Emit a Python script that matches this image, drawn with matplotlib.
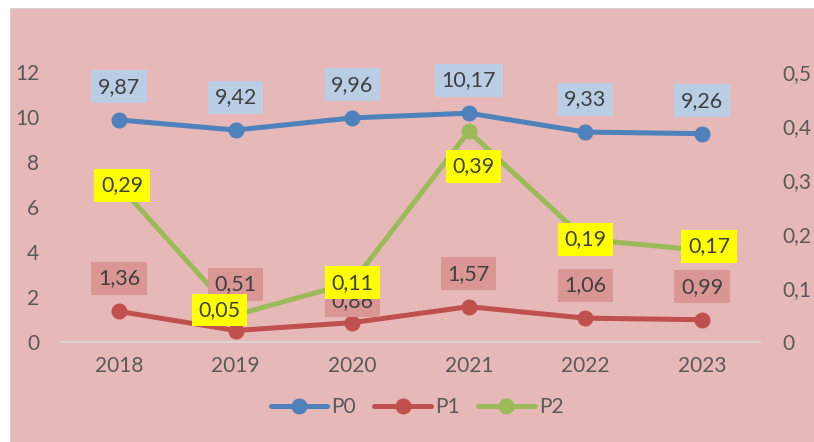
import matplotlib.pyplot as plt
from matplotlib.patches import Rectangle

years = ["2018", "2019", "2020", "2021", "2022", "2023"]
p0 = [9.87, 9.42, 9.96, 10.17, 9.33, 9.26]
p1 = [1.36, 0.51, 0.86, 1.57, 1.06, 0.99]
p2 = [0.29, 0.05, 0.11, 0.39, 0.19, 0.17]

# label offsets in pixels (dx, dy), mimicking Excel's placement
off_p0 = [(0, 33)] * 6
off_p1 = [(0, 33), (0, 46), (0, 22), (0, 33), (0, 33), (0, 33)]
off_p2 = [(3, 0), (-16, 5), (0, 0), (5, -35), (0, 0), (7, 4)]

BLUE, RED, GREEN = "#4F81BD", "#C0504D", "#9BBB59"
BG = "#E6B8B7"

plt.rcParams['font.family'] = ['Lato', 'DejaVu Sans']

fig = plt.figure(figsize=(8.14, 4.42), dpi=100)
fig.patch.set_facecolor("white")
fig.patches.append(Rectangle((10 / 814, 0), 1, (442 - 8) / 442, transform=fig.transFigure,
                             facecolor=BG, edgecolor="#D0D0D0", lw=0.6, zorder=-10))

ax = fig.add_axes([60.7 / 814, 100 / 442, 699.6 / 814, 270 / 442])
ax2 = ax.twinx()
for a in (ax, ax2):
    a.set_facecolor("none")
    for s in a.spines.values():
        s.set_visible(False)
ax.spines["bottom"].set_visible(True)
ax.spines["bottom"].set_color("#D9D9D9")
ax.spines["bottom"].set_linewidth(1.3)

x = range(len(years))
ax.plot(x, p0, color=BLUE, lw=3.6, marker="o", ms=10.5, label="P0", solid_capstyle="round")
ax.plot(x, p1, color=RED, lw=3.6, marker="o", ms=10.5, label="P1", solid_capstyle="round")
ax2.plot(x, p2, color=GREEN, lw=3.6, marker="o", ms=10.5, label="P2", solid_capstyle="round")

ax.set_xlim(-0.5, 5.5)
ax.set_ylim(0, 12)
ax2.set_ylim(0, 0.5)
ax.set_xticks(list(x))
ax.set_xticklabels(years)
ax.set_yticks(range(0, 13, 2))
ax2.set_yticks([0, 0.1, 0.2, 0.3, 0.4, 0.5])
ax2.set_yticklabels(["0", "0,1", "0,2", "0,3", "0,4", "0,5"])
ax.tick_params(axis="y", length=0, pad=15.5, labelsize=15, labelcolor="#595959")
ax.tick_params(axis="x", length=0, pad=10, labelsize=15, labelcolor="#595959")
ax2.tick_params(axis="y", length=0, pad=16, labelsize=15, labelcolor="#595959")


def fmt(v):
    return f"{v:.2f}".replace(".", ",")


def put_labels(vals, offs, trans, box, z):
    for i, (v, (dx, dy)) in enumerate(zip(vals, offs)):
        ax2.annotate(fmt(v), (i, v), xycoords=trans, xytext=(dx * 0.72, dy * 0.72),
                     textcoords="offset points", ha="center", va="center",
                     fontsize=15.5, color="#404040", zorder=z, annotation_clip=False,
                     bbox=dict(boxstyle="square,pad=0.3", fc=box, ec="none"))


put_labels(p0, off_p0, ax.transData, "#B9CDE5", 5)
put_labels(p1, off_p1, ax.transData, "#D99694", 6)
put_labels(p2, off_p2, ax2.transData, "#FFFF00", 7)

h1, l1 = ax.get_legend_handles_labels()
h2, l2 = ax2.get_legend_handles_labels()
fig.legend(h1 + h2, l1 + l2, loc="center", bbox_to_anchor=(417 / 814, (442 - 407) / 442),
           ncol=3, frameon=False, fontsize=15, labelcolor="#595959",
           handlelength=2.7, handletextpad=0.2, columnspacing=0.9)

fig.savefig("out.png", dpi=100)
